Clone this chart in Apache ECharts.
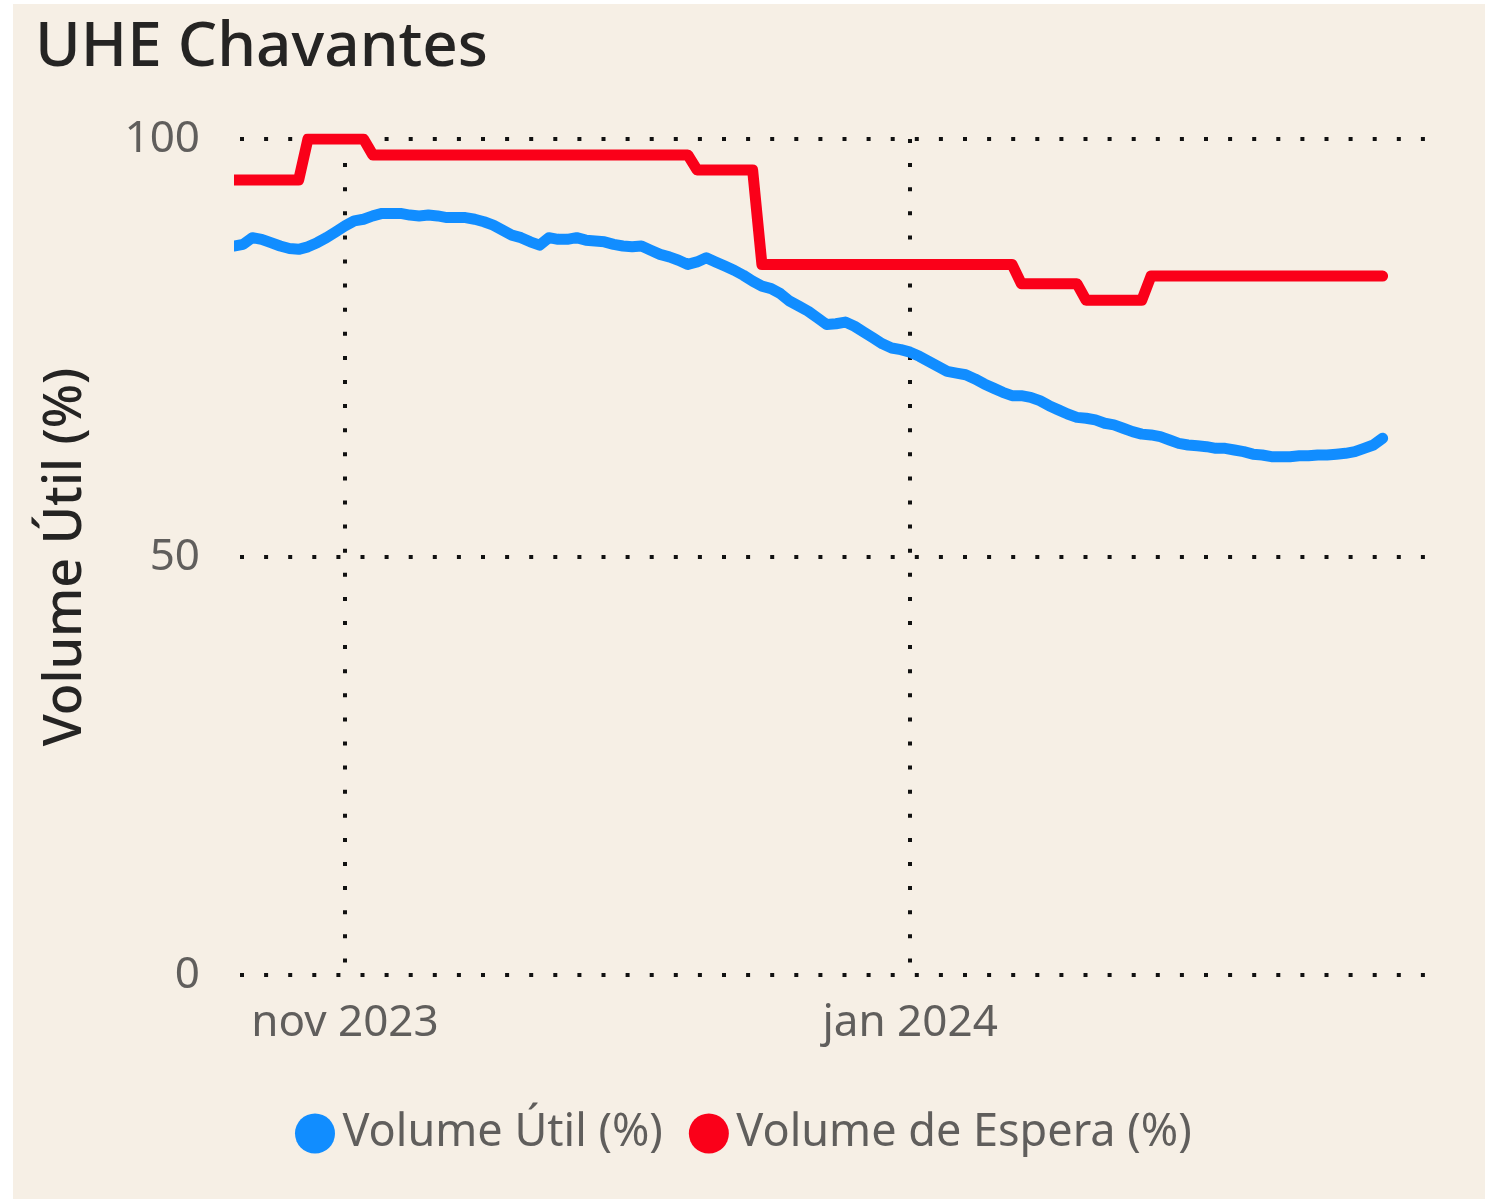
<!DOCTYPE html>
<html>
<head>
<meta charset="utf-8">
<title>UHE Chavantes</title>
<script src="https://cdn.jsdelivr.net/npm/echarts@6/dist/echarts.min.js"></script>
<style>
  html, body { margin: 0; padding: 0; background: #ffffff; }
  #main { position: absolute; left: 13px; top: 4px; width: 1472px; height: 1195px; }
</style>
</head>
<body>
<div id="main"></div>
<script>
// Volume Útil (%) - one value per day, starting on utilStart
var utilStart = "2023-10-20";
var utilValues = [
  87.2, 87.4, 88.2, 88.0, 87.6, 87.2, 86.9, 86.8, 87.1, 87.6, 88.2, 88.9,
  89.6, 90.2, 90.4, 90.8, 91.1, 91.1, 91.1, 90.9, 90.8, 90.9, 90.8, 90.6,
  90.6, 90.6, 90.4, 90.1, 89.7, 89.1, 88.5, 88.2, 87.7, 87.3, 88.2, 88.0,
  88.0, 88.2, 87.9, 87.8, 87.7, 87.4, 87.2, 87.1, 87.2, 86.7, 86.2, 85.9,
  85.5, 85.0, 85.3, 85.8, 85.3, 84.8, 84.3, 83.7, 83.0, 82.4, 82.1, 81.5,
  80.6, 80.0, 79.4, 78.6, 77.8, 77.9, 78.1, 77.6, 76.9, 76.2, 75.5, 75.0,
  74.8, 74.5, 74.0, 73.4, 72.8, 72.2, 72.0, 71.8, 71.3, 70.7, 70.2, 69.7,
  69.3, 69.3, 69.1, 68.7, 68.1, 67.6, 67.1, 66.7, 66.6, 66.4, 66.0, 65.8,
  65.4, 65.0, 64.7, 64.6, 64.4, 64.0, 63.6, 63.4, 63.3, 63.2, 63.0, 63.0,
  62.8, 62.6, 62.3, 62.2, 62.0, 62.0, 62.0, 62.1, 62.1, 62.2, 62.2, 62.3,
  62.4, 62.6, 63.0, 63.4, 64.2
];

// Volume de Espera (%) - only the days where the level changes
var esperaDates = [
  "2023-10-20", "2023-10-27", "2023-10-28", "2023-11-03", "2023-11-04",
  "2023-12-08", "2023-12-09", "2023-12-15", "2023-12-16", "2024-01-12",
  "2024-01-13", "2024-01-19", "2024-01-20", "2024-01-26", "2024-01-27",
  "2024-02-21"
];
var esperaValues = [
  95.1, 95.1, 100, 100, 98.1,
  98.1, 96.3, 96.3, 85.0, 85.0,
  82.7, 82.7, 80.7, 80.7, 83.6,
  83.6
];

// eixo x
var xTickDates = ["2023-11-01", "2024-01-01"];
var xTickLabels = ["nov 2023", "jan 2024"];
var yTicks = [0, 50, 100];

function toTime(s) {
  var p = s.split("-");
  return new Date(+p[0], +p[1] - 1, +p[2]).getTime();
}

var utilData = [];
var d0 = utilStart.split("-");
for (var i = 0; i < utilValues.length; i++) {
  utilData.push([new Date(+d0[0], +d0[1] - 1, +d0[2] + i).getTime(), utilValues[i]]);
}
var esperaData = [];
for (var j = 0; j < esperaDates.length; j++) {
  esperaData.push([toTime(esperaDates[j]), esperaValues[j]]);
}
var xTickTimes = xTickDates.map(toTime);

var grey = "#605E5C";
var dark = "#252423";
var font = "'Noto Sans', 'Open Sans', sans-serif";

var myChart = echarts.init(document.getElementById("main"));
var option = {
  animation: false,
  backgroundColor: "#F6EFE5",
  title: {
    text: "UHE Chavantes",
    left: 17,
    top: 8,
    textStyle: { fontFamily: font, fontSize: 62, fontWeight: 500, color: dark }
  },
  legend: {
    bottom: 38,
    left: 277,
    icon: "circle",
    itemWidth: 45,
    itemHeight: 40,
    itemGap: 26,
    textStyle: { fontFamily: font, fontSize: 45, color: grey },
    data: ["Volume Útil (%)", "Volume de Espera (%)"]
  },
  grid: { left: 227, right: 58, top: 135, bottom: 224 },
  xAxis: {
    type: "value",
    min: new Date(2023, 9, 20, 16).getTime(),
    max: new Date(2024, 1, 25, 19).getTime(),
    axisLine: { show: false },
    axisTick: { show: false, customValues: xTickTimes },
    axisLabel: {
      customValues: xTickTimes,
      margin: 26,
      fontFamily: font,
      fontSize: 44,
      color: grey,
      formatter: function(v) {
        var k = xTickTimes.indexOf(v);
        return k >= 0 ? xTickLabels[k] : "";
      }
    },
    splitLine: {
      show: true,
      lineStyle: { color: "#111", width: 4, type: [4, 20.1] }
    }
  },
  yAxis: {
    type: "value",
    min: yTicks[0],
    max: yTicks[yTicks.length - 1],
    interval: 50,
    name: "Volume Útil (%)",
    nameLocation: "middle",
    nameGap: 148,
    nameTextStyle: { fontFamily: font, fontSize: 52, fontWeight: 500, color: dark },
    axisLine: { show: false },
    axisTick: { show: false },
    axisLabel: { margin: 40, fontFamily: font, fontSize: 44, color: grey },
    splitLine: {
      show: true,
      lineStyle: { color: "#111", width: 4, type: [4, 20.1] }
    }
  },
  series: [
    {
      name: "Volume Útil (%)",
      type: "line",
      data: utilData,
      showSymbol: false,
      symbol: "none",
      color: "#118DFF",
      lineStyle: { width: 11, cap: "round", join: "round" }
    },
    {
      name: "Volume de Espera (%)",
      type: "line",
      data: esperaData,
      showSymbol: false,
      symbol: "none",
      color: "#FA0019",
      lineStyle: { width: 11, cap: "round", join: "round" }
    }
  ]
};
myChart.setOption(option);
</script>
</body>
</html>
